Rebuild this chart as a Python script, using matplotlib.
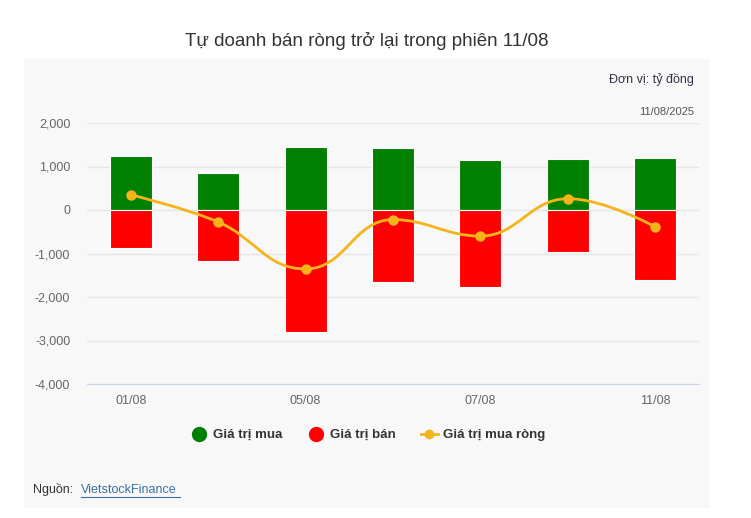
import numpy as np
import matplotlib.pyplot as plt
from matplotlib.patches import Rectangle, PathPatch
from matplotlib.path import Path
from matplotlib.lines import Line2D

plt.rcParams['font.family'] = ['Liberation Sans', 'DejaVu Sans']

# data (ty dong)
days = ['01/08', '04/08', '05/08', '06/08', '07/08', '08/08', '11/08']
buy = [1230, 860, 1455, 1425, 1145, 1165, 1200]
sell = [-885, -1165, -2805, -1650, -1780, -960, -1605]
net = [350, -275, -1355, -220, -600, 260, -390]
tick_days = ['01/08', '05/08', '07/08', '11/08']

W, H = 751, 518
fig = plt.figure(figsize=(W / 100, H / 100), dpi=100)
fig.patch.set_facecolor('white')

# grey panel behind the chart
fig.patches.append(Rectangle((24 / W, 1 - 508 / H), (710 - 24) / W, (508 - 59) / H,
                             transform=fig.transFigure, facecolor='#f8f8f8',
                             edgecolor='none', zorder=-5))

ax = fig.add_axes([87 / W, 1 - 384 / H, (699 - 87) / W, (384 - 123) / H])
ax.set_facecolor('none')
ax.set_zorder(1)

x = np.arange(len(days))
ax.bar(x, buy, width=0.48, color='#008000', edgecolor='white', linewidth=0.8, zorder=2)
ax.bar(x, sell, width=0.48, color='#ff0000', edgecolor='white', linewidth=0.8, zorder=2)

ax.set_xlim(-0.5, len(days) - 0.5)
ax.set_ylim(-4000, 2000)
fig.canvas.draw()

# spline like highcharts (bezier control points in pixel space)
pts = ax.transData.transform(np.column_stack([x, net]))
verts = [pts[0]]
codes = [Path.MOVETO]
sm = 1.5
ctrl = []
for i in range(len(pts)):
    px, py = pts[i]
    if i == 0 or i == len(pts) - 1:
        ctrl.append(((px, py), (px, py)))
        continue
    lx, ly = pts[i - 1]
    nx, ny = pts[i + 1]
    lcx, lcy = (sm * px + lx) / (sm + 1), (sm * py + ly) / (sm + 1)
    rcx, rcy = (sm * px + nx) / (sm + 1), (sm * py + ny) / (sm + 1)
    dl = np.hypot(lcx - px, lcy - py)
    dr = np.hypot(rcx - px, rcy - py)
    la = np.arctan2(lcy - py, lcx - px)
    ra = np.arctan2(rcy - py, rcx - px)
    ja = np.pi / 2 + (la + ra) / 2
    if abs(la - ja) > np.pi / 2:
        ja -= np.pi
    lc = (px + np.cos(ja) * dl, py + np.sin(ja) * dl)
    rc = (px + np.cos(np.pi + ja) * dr, py + np.sin(np.pi + ja) * dr)
    # keep the curve from overshooting
    if (lc[1] > max(ly, py) and py > ly) or (lc[1] < min(ly, py) and py < ly) \
            or (rc[1] > max(ny, py) and py > ny) or (rc[1] < min(ny, py) and py < ny):
        lc = (lc[0], py)
        rc = (rc[0], py)
    ctrl.append((lc, rc))
for i in range(1, len(pts)):
    verts += [ctrl[i - 1][1], ctrl[i][0], pts[i]]
    codes += [Path.CURVE4] * 3
verts = ax.transData.inverted().transform(np.array(verts))
line_color = '#f4b41a'
ax.add_patch(PathPatch(Path(verts, codes), facecolor='none', edgecolor=line_color,
                       linewidth=2, zorder=3))
ax.plot(x, net, 'o', color=line_color, markersize=6.5, zorder=4)

ax.set_yticks(range(-4000, 2001, 1000))
ax.set_yticklabels([f'{v:,}' for v in range(-4000, 2001, 1000)])
ax.set_xticks([days.index(d) for d in tick_days])
ax.set_xticklabels(tick_days)
ax.tick_params(axis='both', length=0, labelsize=9, colors='#666666')
ax.tick_params(axis='y', pad=12)
ax.tick_params(axis='x', pad=8)
ax.grid(axis='y', color='#e6e6e6', linewidth=1, zorder=0)
ax.set_axisbelow(True)
for s in ['top', 'right', 'left']:
    ax.spines[s].set_visible(False)
ax.spines['bottom'].set_color('#ccd6eb')
ax.spines['bottom'].set_zorder(1)

fig.text(367 / W, 1 - 41 / H, 'Tự doanh bán ròng trở lại trong phiên 11/08',
         ha='center', va='center', fontsize=13.5, color='#333333')
fig.text(694 / W, 1 - 79 / H, 'Đơn vị: tỷ đồng', ha='right', va='center',
         fontsize=9, color='#333344')
fig.text(694 / W, 1 - 112 / H, '11/08/2025', ha='right', va='center',
         fontsize=8, color='#555555')

handles = [
    Line2D([], [], marker='o', linestyle='none', color='#008000', markersize=10),
    Line2D([], [], marker='o', linestyle='none', color='#ff0000', markersize=10),
    Line2D([], [], marker='o', color=line_color, linewidth=2, markersize=6),
]
fig.legend(handles, ['Giá trị mua', 'Giá trị bán', 'Giá trị mua ròng'],
           loc='center', bbox_to_anchor=(368 / W, 1 - 435 / H), ncol=3,
           frameon=False, handlelength=1.3, handletextpad=0.4, columnspacing=1.9,
           prop={'weight': 'bold', 'size': 9.5}, labelcolor='#333333')

fig.text(33 / W, 1 - 490 / H, 'Nguồn: ', ha='left', va='center', fontsize=9, color='#333333')
fig.text(81 / W, 1 - 490 / H, 'VietstockFinance', ha='left', va='center', fontsize=9,
         color='#3a6fa5').set_url('https://finance.vietstock.vn')
fig.add_artist(Line2D([81 / W, 180 / W], [1 - 497 / H, 1 - 497 / H],
                      color='#3a6fa5', linewidth=0.8, transform=fig.transFigure))

fig.savefig('out.png', dpi=100, facecolor='white')
